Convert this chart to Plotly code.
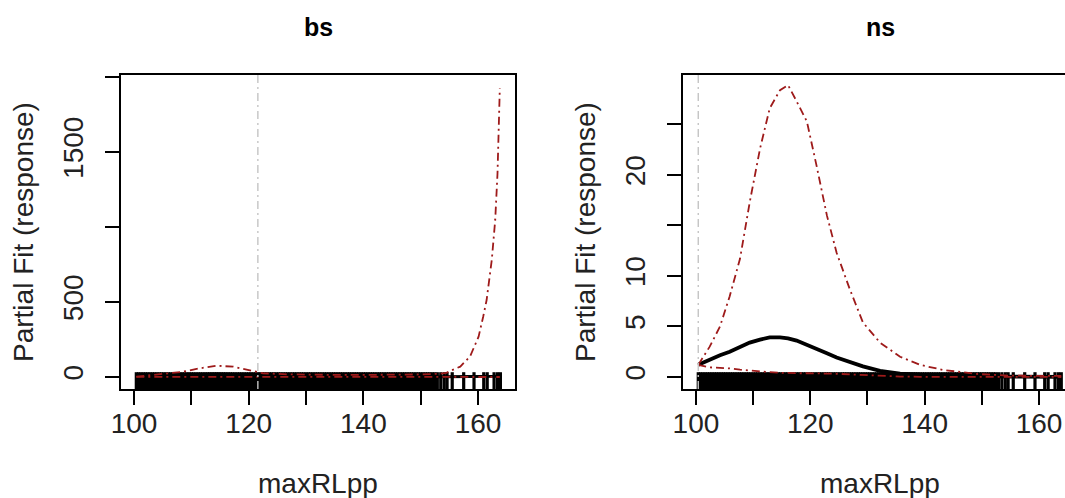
import plotly.graph_objects as go

## datos #######################################
################################################

# rug de observaciones de maxRLpp (comun a los dos paneles)
rug_x = [
    100.4, 100.8, 101.2, 101.6, 102.0, 102.4, 102.8, 103.2, 103.6, 104.0,
    104.4, 104.8, 105.2, 105.6, 106.0, 106.4, 106.8, 107.2, 107.6, 108.0,
    108.4, 108.8, 109.2, 109.6, 110.0, 110.4, 110.8, 111.2, 111.6, 112.0,
    112.4, 112.8, 113.2, 113.6, 114.0, 114.4, 114.8, 115.2, 115.6, 116.0,
    116.4, 116.8, 117.2, 117.6, 118.0, 118.4, 118.8, 119.2, 119.6, 120.0,
    120.4, 120.8, 121.2, 121.6, 122.0, 122.4, 122.8, 123.2, 123.6, 124.0,
    124.4, 124.8, 125.2, 125.6, 126.0, 126.4, 126.8, 127.2, 127.6, 128.0,
    128.4, 128.8, 129.2, 129.6, 130.0, 130.4, 130.8, 131.2, 131.6, 132.0,
    132.4, 132.8, 133.2, 133.6, 134.0, 134.4, 134.8, 135.2, 135.6, 136.0,
    136.4, 136.8, 137.2, 137.6, 138.0, 138.4, 138.8, 139.2, 139.6, 140.0,
    140.4, 140.8, 141.2, 141.6, 142.0, 142.4, 142.8, 143.2, 143.6, 144.0,
    144.4, 144.8, 145.2, 145.6, 146.0, 146.4, 146.8, 147.2, 147.6, 148.0,
    148.4, 148.8, 149.2, 149.6, 150.0, 150.4, 150.8, 151.2, 151.6, 152.0,
    152.4, 152.9, 153.5, 154.1, 154.6, 155.5, 157.5, 159.3, 161.0, 161.6,
    162.8, 163.4, 163.9,
]

# panel "bs"
bs_x = [100.4, 103.0, 106.3, 108.5, 111.5, 114.4, 117.3, 120.2, 122.5, 126.6,
        130.0, 135.0, 140.0, 145.0, 150.0, 153.4, 154.5, 155.1, 156.9, 158.6,
        160.1, 160.9, 161.5, 162.4, 163.0, 163.4, 163.6, 163.8]
bs_fit = [1, 5, 10, 14, 18, 20, 17, 10, 5, 2,
          1, 0.5, 0.5, 0.5, 0.5, 0.6, 0.7, 0.8, 1, 1.5,
          2, 2.5, 3, 4, 5, 6, 7, 8]
bs_upper = [2, 12, 25, 35, 58, 75, 69, 47, 25, 18,
            15, 14, 14, 15, 17, 22, 28, 40, 69, 136,
            269, 402, 513, 780, 1047, 1358, 1625, 1925]
bs_lower = [0.5, 0.4, 0.3, 0.3, 0.2, 0.2, 0.2, 0.2, 0.2, 0.1,
            0.1, 0.1, 0.1, 0.1, 0.1, 0.1, 0.1, 0.1, 0.1, 0.1,
            0.1, 0.1, 0.1, 0.1, 0.1, 0.1, 0.1, 0.1]

# panel "ns"
ns_x = [100.4, 102.4, 104.2, 105.9, 107.7, 109.4, 111.2, 112.9, 114.7, 116.1,
        117.6, 119.4, 121.1, 122.9, 124.6, 126.9, 129.2, 132.2, 135.7, 139.2,
        143.2, 149.1, 154.9, 160.0, 163.9]
ns_fit = [1.2, 1.75, 2.15, 2.5, 2.95, 3.4, 3.7, 3.92, 3.93, 3.83,
          3.6, 3.2, 2.8, 2.35, 1.93, 1.45, 1.05, 0.6, 0.33, 0.22,
          0.14, 0.07, 0.04, 0.02, 0.01]
ns_upper = [1.2, 3.0, 5.0, 8.0, 11.7, 17.3, 22.6, 26.6, 28.4, 28.9,
            27.3, 25.3, 20.9, 16.0, 12.3, 8.7, 5.4, 3.4, 2.0, 1.2,
            0.7, 0.3, 0.13, 0.1, 0.1]
ns_lower = [1.2, 0.95, 0.9, 0.85, 0.72, 0.62, 0.55, 0.48, 0.42, 0.38,
            0.37, 0.37, 0.37, 0.36, 0.32, 0.26, 0.2, 0.1, 0.04, 0.02,
            0.01, 0.0, 0.0, 0.0, 0.0]

vline_x = [121.6, 100.4]

titles = ["bs", "ns"]
x_title = "maxRLpp"
y_title = "Partial Fit (response)"

x_ticks = [100, 110, 120, 130, 140, 150, 160]
x_ticktext = ["100", "", "120", "", "140", "", "160"]
bs_yticks = [0, 500, 1000, 1500, 2000]
bs_yticktext = ["0", "500", "", "1500", ""]
ns_yticks = [0, 5, 10, 15, 20, 25]
ns_yticktext = ["0", "5", "10", "", "20", ""]

bs_xrange = [97.73, 166.45]
ns_xrange = [97.73, 164.55]
bs_yrange = [-80, 2013]
ns_yrange = [-1.19, 29.9]

## estilos ######################################
W, H = 1065, 498
RED = "#9e1a1a"
GREY = "#c4c4c4"
DASHDOT = "8px,4px,2px,4px"
FONT = "Liberation Sans, Arial, sans-serif"

fig = go.Figure()


def add_panel(xa, ya, x, fit, upper, lower, yrange, fit_w):
  # rug al fondo del panel
  fig.add_trace(go.Scatter(x=rug_x, y=[yrange[0]] * len(rug_x), mode="markers",
                           marker=dict(symbol="line-ns", size=24,
                                       line=dict(width=3.2, color="black")),
                           cliponaxis=True, xaxis=xa, yaxis=ya, hoverinfo="skip"))
  fig.add_trace(go.Scatter(x=x, y=fit, mode="lines",
                           line=dict(color="black", width=fit_w),
                           xaxis=xa, yaxis=ya))
  for band in (upper, lower):
    fig.add_trace(go.Scatter(x=x, y=band, mode="lines",
                             line=dict(color=RED, width=1.8, dash=DASHDOT),
                             xaxis=xa, yaxis=ya))


add_panel("x", "y", bs_x, bs_fit, bs_upper, bs_lower, bs_yrange, 3.0)
add_panel("x2", "y2", ns_x, ns_fit, ns_upper, ns_lower, ns_yrange, 3.8)

for xr, yr, v in (("x", "y domain", vline_x[0]), ("x2", "y2 domain", vline_x[1])):
  fig.add_shape(type="line", x0=v, x1=v, y0=0, y1=1, xref=xr, yref=yr,
                line=dict(color=GREY, width=1.4, dash=DASHDOT))

# dominios en pixeles del original
box_l = [121, 683]
box_r = [515, 1065]
box_t, box_b = 75, 389
ydom = [1 - box_b / H, 1 - box_t / H]

axis_common = dict(showgrid=False, zeroline=False, showline=True, linecolor="black",
                   linewidth=1.5, ticks="outside", ticklen=14, tickwidth=1.5,
                   tickcolor="black", automargin=False,
                   tickfont=dict(size=28, color="#222222"))

fig.update_layout(
    width=W, height=H,
    margin=dict(l=0, r=0, t=0, b=0),
    paper_bgcolor="white", plot_bgcolor="white",
    showlegend=False,
    font=dict(family=FONT, color="#222222"),
    xaxis=dict(domain=[box_l[0] / W, box_r[0] / W], range=bs_xrange, anchor="y",
               ticklabelstandoff=-5,
               tickvals=x_ticks, ticktext=x_ticktext, mirror=True, **axis_common),
    yaxis=dict(domain=ydom, range=bs_yrange, anchor="x", tickangle=-90,
               ticklabelstandoff=11,
               tickvals=bs_yticks, ticktext=bs_yticktext, mirror=True, **axis_common),
    xaxis2=dict(domain=[box_l[1] / W, box_r[1] / W], range=ns_xrange, anchor="y2",
                ticklabelstandoff=-5,
                tickvals=x_ticks, ticktext=x_ticktext, mirror=True, **axis_common),
    yaxis2=dict(domain=ydom, range=ns_yrange, anchor="x2", tickangle=-90,
                ticklabelstandoff=11,
                tickvals=ns_yticks, ticktext=ns_yticktext, mirror=False, **axis_common),
)

# titulos y etiquetas de ejes
centers = [318, 880]
ytitle_x = [23, 585]
for i in range(2):
  fig.add_annotation(text="<b>" + titles[i] + "</b>", x=centers[i] / W, y=1 - 27 / H,
                     xref="paper", yref="paper", xanchor="center", yanchor="middle",
                     showarrow=False, font=dict(size=25, color="black"))
  fig.add_annotation(text=x_title, x=centers[i] / W, y=1 - 483 / H,
                     xref="paper", yref="paper", xanchor="center", yanchor="middle",
                     showarrow=False, font=dict(size=28, color="#222222"))
  fig.add_annotation(text=y_title, x=ytitle_x[i] / W, y=1 - 232 / H, textangle=-90,
                     xref="paper", yref="paper", xanchor="center", yanchor="middle",
                     showarrow=False, font=dict(size=28, color="#222222"))

# sin margen del body para que la figura quede en (0, 0)
fig.write_html("out.html", config={"displayModeBar": False},
               post_script="document.body.style.margin='0px';")
